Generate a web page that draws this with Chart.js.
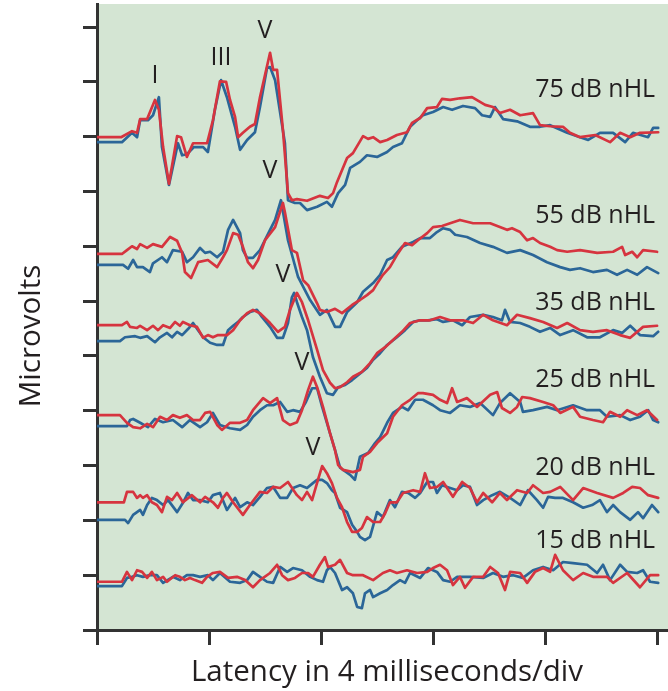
<!DOCTYPE html>
<html><head><meta charset="utf-8">
<script src="https://cdn.jsdelivr.net/npm/chart.js@4.4.1/dist/chart.umd.min.js"></script>
<style>html,body{margin:0;padding:0;background:#fff}canvas{display:block}</style>
</head><body>
<canvas id="c" width="668" height="691"></canvas>
<script>
// Latency (ms) / amplitude (divisions) pairs
const levels = ['75 dB nHL','55 dB nHL','35 dB nHL','25 dB nHL','20 dB nHL','15 dB nHL'];
const levelLabelY = [9.72, 7.42, 5.84, 4.43, 2.83, 1.50];
const peakLabels = ['I','III','V','V','V','V','V'];
const peakLabelX = [2.07, 4.43, 6.0, 6.18, 6.64, 7.32, 7.71];
const peakLabelY = [9.98, 10.31, 10.80, 8.25, 6.35, 4.74, 3.19];
const xTicks = [0,4,8,12,16,20];

const red75 = [[0,8.99],[0.86,8.99],[1.25,9.10],[1.43,9.07],[1.54,9.32],[1.79,9.32],[2.07,9.67],[2.21,9.49],[2.36,8.81],[2.57,8.14],[2.86,9.01],[3.0,8.99],[3.21,8.63],[3.43,8.88],[3.93,8.88],[4.14,9.30],[4.39,10.01],[4.61,10.0],[4.75,9.67],[4.93,9.36],[5.04,8.99],[5.21,9.07],[5.46,9.18],[5.64,9.23],[5.82,9.72],[6.18,10.53],[6.29,10.22],[6.43,10.22],[6.64,9.12],[6.82,7.97],[6.96,7.84],[7.14,7.86],[7.5,7.83],[7.96,7.92],[8.25,7.88],[8.43,7.97],[8.57,8.17],[8.93,8.61],[9.14,8.70],[9.5,9.01],[9.68,8.96],[9.86,8.99],[10.11,8.90],[10.36,8.94],[10.71,9.03],[11.07,9.08],[11.25,9.25],[11.54,9.34],[11.79,9.52],[12.14,9.54],[12.32,9.69],[12.61,9.67],[12.96,9.70],[13.39,9.72],[13.86,9.58],[14.14,9.54],[14.39,9.43],[14.75,9.49],[15.11,9.39],[15.57,9.43],[15.82,9.21],[16.18,9.19],[16.64,9.18],[16.89,9.07],[17.25,8.99],[17.79,9.03],[18.32,8.90],[18.68,9.07],[19.04,8.99],[19.39,9.07],[20.04,9.08]];
const blue75 = [[0,8.90],[0.89,8.90],[1.25,9.07],[1.43,8.99],[1.54,9.30],[1.82,9.30],[2.0,9.39],[2.21,9.72],[2.32,8.81],[2.57,8.12],[2.89,8.88],[3.04,8.66],[3.21,8.68],[3.46,8.81],[3.79,8.81],[3.96,8.72],[4.21,9.49],[4.43,10.03],[4.64,9.72],[4.93,9.18],[5.11,8.76],[5.36,8.94],[5.64,9.08],[5.82,9.54],[6.07,10.25],[6.18,10.27],[6.36,10.03],[6.71,8.88],[6.82,7.84],[7.07,7.79],[7.25,7.79],[7.5,7.66],[7.86,7.72],[8.21,7.81],[8.39,7.72],[8.61,7.97],[8.86,8.12],[9.04,8.43],[9.39,8.54],[9.64,8.66],[10.0,8.63],[10.36,8.72],[10.57,8.81],[10.89,8.88],[11.07,9.07],[11.18,9.18],[11.43,9.30],[11.64,9.39],[12.0,9.45],[12.36,9.54],[12.68,9.49],[13.07,9.56],[13.5,9.52],[13.75,9.39],[14.04,9.36],[14.21,9.54],[14.5,9.32],[15.0,9.28],[15.46,9.18],[15.82,9.18],[16.18,9.21],[16.79,9.07],[17.25,8.99],[17.54,8.94],[17.96,9.07],[18.43,9.07],[18.86,8.90],[19.14,9.07],[19.68,8.99],[19.86,9.16],[20.04,9.16]];

const red55 = [[0,6.86],[0.89,6.86],[1.07,6.93],[1.25,7.00],[1.43,6.95],[1.54,7.04],[1.79,6.97],[2.0,7.04],[2.32,6.99],[2.61,7.17],[2.86,7.10],[3.04,6.88],[3.14,6.53],[3.36,6.42],[3.61,6.71],[3.96,6.75],[4.29,6.62],[4.5,6.80],[4.64,6.93],[4.86,7.24],[5.04,7.21],[5.21,6.99],[5.39,6.71],[5.57,6.60],[5.75,6.75],[6.0,7.11],[6.36,7.35],[6.64,7.79],[6.71,7.62],[6.96,6.93],[7.14,6.88],[7.36,6.38],[7.54,6.29],[7.86,5.96],[7.96,5.84],[8.21,5.80],[8.5,5.86],[8.75,5.78],[9.11,5.93],[9.39,6.02],[9.64,6.11],[9.86,6.20],[10.04,6.35],[10.21,6.48],[10.46,6.62],[10.71,6.84],[11.0,7.06],[11.25,7.02],[11.46,7.11],[11.79,7.24],[12.0,7.35],[12.32,7.37],[12.61,7.42],[12.96,7.48],[13.43,7.42],[14.04,7.42],[14.64,7.30],[14.82,7.33],[15.11,7.26],[15.36,7.11],[15.57,7.15],[15.82,7.06],[16.18,6.99],[16.43,6.93],[16.79,6.90],[17.25,6.93],[17.86,6.88],[18.43,6.90],[18.75,6.99],[18.86,6.84],[19.11,6.90],[19.29,6.80],[19.5,6.93],[20.0,6.90]];
const blue55 = [[0,6.66],[0.93,6.66],[1.11,6.59],[1.29,6.75],[1.43,6.62],[1.64,6.62],[1.89,6.53],[2.0,6.69],[2.32,6.80],[2.5,6.71],[2.71,6.93],[3.04,6.90],[3.21,6.71],[3.43,6.80],[3.68,6.97],[3.86,6.88],[4.04,6.90],[4.29,6.80],[4.5,6.90],[4.68,7.30],[4.86,7.48],[5.11,7.24],[5.21,6.93],[5.36,6.79],[5.57,6.79],[5.82,6.93],[6.18,7.30],[6.36,7.48],[6.57,7.84],[6.82,7.11],[7.18,6.44],[7.61,6.02],[7.96,5.75],[8.21,5.84],[8.5,5.53],[8.68,5.53],[8.93,5.80],[9.29,5.98],[9.5,6.17],[9.86,6.33],[10.11,6.48],[10.36,6.75],[10.57,6.80],[10.89,6.99],[11.29,7.08],[11.54,7.15],[11.89,7.15],[12.14,7.26],[12.36,7.33],[12.61,7.30],[12.79,7.21],[13.21,7.17],[13.68,7.06],[14.14,6.99],[14.64,6.88],[15.11,6.93],[15.57,6.84],[16.07,6.71],[16.54,6.62],[16.89,6.57],[17.25,6.60],[17.71,6.53],[18.21,6.57],[18.57,6.48],[18.93,6.57],[19.29,6.48],[19.64,6.62],[20.04,6.51]];

const red35 = [[0,5.56],[0.89,5.56],[1.07,5.62],[1.18,5.53],[1.43,5.51],[1.54,5.55],[1.79,5.47],[2.0,5.55],[2.18,5.47],[2.36,5.56],[2.61,5.51],[2.79,5.62],[2.96,5.55],[3.07,5.62],[3.32,5.56],[3.57,5.53],[3.79,5.33],[3.96,5.38],[4.14,5.34],[4.32,5.38],[4.64,5.38],[4.86,5.47],[5.11,5.65],[5.36,5.78],[5.57,5.84],[5.82,5.78],[6.18,5.60],[6.46,5.44],[6.71,5.53],[6.89,5.84],[7.14,6.15],[7.32,5.98],[7.54,5.65],[7.86,5.11],[8.07,4.74],[8.32,4.51],[8.5,4.41],[8.68,4.43],[8.93,4.52],[9.14,4.62],[9.46,4.71],[9.75,4.87],[10.0,5.05],[10.29,5.16],[10.57,5.29],[10.89,5.44],[11.18,5.60],[11.54,5.65],[11.89,5.65],[12.25,5.71],[12.61,5.65],[13.07,5.65],[13.43,5.60],[13.79,5.75],[14.14,5.65],[14.64,5.56],[15.0,5.75],[15.46,5.69],[15.93,5.62],[16.43,5.51],[16.79,5.60],[17.25,5.47],[17.71,5.44],[18.21,5.47],[18.68,5.38],[19.04,5.33],[19.5,5.53],[20.0,5.55]];
const blue35 = [[0,5.27],[0.82,5.27],[1.0,5.34],[1.36,5.36],[1.54,5.33],[1.79,5.36],[2.07,5.25],[2.25,5.34],[2.5,5.42],[2.68,5.34],[2.86,5.44],[3.04,5.38],[3.25,5.49],[3.43,5.60],[3.61,5.47],[3.79,5.34],[4.04,5.24],[4.29,5.20],[4.5,5.20],[4.68,5.47],[4.86,5.55],[5.04,5.62],[5.21,5.71],[5.46,5.80],[5.71,5.84],[5.89,5.71],[6.18,5.53],[6.43,5.33],[6.64,5.33],[6.82,5.60],[6.96,6.07],[7.04,6.15],[7.14,5.98],[7.32,5.71],[7.5,5.47],[7.71,4.98],[7.96,4.62],[8.21,4.32],[8.43,4.29],[8.61,4.43],[8.86,4.47],[9.11,4.56],[9.32,4.65],[9.64,4.78],[9.86,4.93],[10.11,5.05],[10.36,5.20],[10.71,5.34],[11.0,5.47],[11.29,5.62],[11.54,5.65],[11.82,5.65],[12.14,5.67],[12.36,5.62],[12.71,5.65],[13.04,5.56],[13.32,5.71],[13.79,5.75],[14.14,5.71],[14.46,5.65],[14.57,5.84],[14.75,5.62],[15.11,5.60],[15.46,5.53],[15.82,5.44],[16.18,5.51],[16.54,5.38],[17.0,5.47],[17.5,5.34],[17.96,5.34],[18.43,5.47],[18.75,5.42],[19.04,5.55],[19.39,5.38],[19.86,5.36],[20.04,5.44]];

const red25 = [[0,3.92],[0.82,3.92],[1.07,3.78],[1.29,3.70],[1.54,3.68],[1.79,3.76],[2.0,3.70],[2.25,3.89],[2.5,3.83],[2.71,3.92],[2.96,3.87],[3.21,3.92],[3.43,3.83],[3.68,3.83],[3.86,3.96],[4.04,3.98],[4.29,3.74],[4.46,3.65],[4.75,3.78],[5.11,3.78],[5.36,3.83],[5.57,4.01],[5.93,4.23],[6.18,4.14],[6.43,4.23],[6.64,3.83],[6.89,3.74],[7.14,3.79],[7.32,4.01],[7.54,4.38],[7.71,4.62],[7.86,4.43],[8.07,4.07],[8.32,3.59],[8.5,3.28],[8.61,3.01],[8.79,2.92],[9.14,2.88],[9.39,2.92],[9.5,3.16],[9.75,3.25],[10.0,3.41],[10.36,3.59],[10.57,3.89],[10.89,4.10],[11.18,4.20],[11.46,4.32],[11.64,4.32],[12.0,4.29],[12.25,4.20],[12.5,4.14],[12.68,4.41],[12.86,4.16],[13.21,4.23],[13.57,4.07],[14.04,4.29],[14.29,4.34],[14.46,4.05],[14.75,3.96],[15.0,4.07],[15.18,4.25],[15.46,4.23],[15.93,4.16],[16.29,4.10],[16.54,3.96],[17.0,4.07],[17.25,3.89],[17.71,3.83],[18.07,3.79],[18.32,3.98],[18.68,3.89],[18.93,4.01],[19.29,3.92],[19.64,4.01],[20.0,3.83]];
const blue25 = [[0,3.72],[1.07,3.72],[1.18,3.83],[1.29,3.85],[1.54,3.78],[1.82,3.70],[2.07,3.85],[2.36,3.79],[2.71,3.83],[3.04,3.70],[3.32,3.83],[3.68,3.70],[3.93,3.79],[4.14,3.96],[4.39,3.74],[4.75,3.68],[5.11,3.65],[5.36,3.74],[5.57,3.89],[5.82,4.01],[6.07,4.10],[6.29,4.10],[6.54,4.16],[6.79,3.98],[7.0,4.01],[7.25,3.98],[7.46,4.16],[7.68,4.41],[7.86,4.41],[8.04,4.07],[8.32,3.59],[8.5,3.28],[8.68,2.96],[9.04,2.83],[9.21,2.74],[9.39,3.16],[9.68,3.23],[9.93,3.41],[10.11,3.52],[10.36,3.78],[10.57,3.96],[10.89,4.07],[11.11,4.01],[11.36,4.20],[11.64,4.20],[12.0,4.10],[12.25,4.01],[12.61,3.96],[12.96,4.10],[13.32,4.07],[13.68,4.14],[14.14,3.92],[14.39,4.14],[14.75,4.32],[15.11,4.16],[15.21,3.98],[15.57,4.01],[16.07,4.07],[16.43,4.01],[17.0,4.10],[17.5,4.01],[17.96,4.01],[18.21,3.89],[18.68,3.92],[19.04,3.83],[19.39,3.89],[19.68,4.01],[19.86,3.83],[20.04,3.79]];

const red20 = [[0,2.33],[0.96,2.33],[1.07,2.52],[1.29,2.52],[1.43,2.41],[1.54,2.46],[1.64,2.41],[1.79,2.46],[1.96,2.33],[2.14,2.28],[2.32,2.15],[2.5,2.43],[2.68,2.37],[2.86,2.50],[3.07,2.33],[3.39,2.46],[3.68,2.33],[3.86,2.43],[4.14,2.33],[4.32,2.23],[4.5,2.41],[4.64,2.50],[4.86,2.33],[5.21,2.10],[5.46,2.28],[5.82,2.52],[6.07,2.50],[6.29,2.61],[6.54,2.59],[6.82,2.70],[7.14,2.46],[7.32,2.37],[7.5,2.52],[7.68,2.37],[7.89,2.74],[8.04,2.99],[8.21,2.86],[8.39,2.68],[8.57,2.41],[8.75,2.24],[8.93,1.97],[9.11,1.79],[9.29,1.79],[9.46,1.86],[9.64,2.06],[9.86,1.97],[10.11,1.97],[10.29,2.13],[10.46,2.33],[10.71,2.33],[10.93,2.50],[11.29,2.55],[11.54,2.52],[11.71,2.86],[11.89,2.59],[12.14,2.61],[12.36,2.70],[12.71,2.43],[13.04,2.70],[13.32,2.59],[13.57,2.33],[13.79,2.50],[14.11,2.33],[14.39,2.50],[14.64,2.37],[15.0,2.55],[15.36,2.50],[15.57,2.64],[15.93,2.50],[16.18,2.52],[16.54,2.61],[17.0,2.37],[17.36,2.59],[17.86,2.50],[18.43,2.41],[18.79,2.50],[19.11,2.61],[19.39,2.59],[19.68,2.46],[20.04,2.41]];
const blue20 = [[0,2.01],[1.0,2.01],[1.11,1.95],[1.29,2.10],[1.54,2.19],[1.64,2.10],[1.79,2.28],[1.96,2.41],[2.14,2.37],[2.36,2.28],[2.54,2.37],[2.86,2.15],[3.07,2.32],[3.25,2.50],[3.43,2.37],[3.68,2.37],[3.96,2.33],[4.14,2.46],[4.39,2.50],[4.64,2.19],[4.93,2.41],[5.11,2.24],[5.36,2.33],[5.57,2.28],[5.82,2.43],[6.07,2.59],[6.29,2.61],[6.54,2.41],[6.79,2.41],[7.0,2.59],[7.25,2.64],[7.5,2.59],[7.71,2.68],[7.86,2.74],[8.04,2.74],[8.21,2.68],[8.39,2.55],[8.5,2.50],[8.68,2.23],[8.93,2.15],[9.11,1.92],[9.29,1.79],[9.39,1.70],[9.57,1.64],[9.75,1.70],[10.0,2.15],[10.21,2.06],[10.46,2.37],[10.64,2.24],[10.89,2.52],[11.11,2.50],[11.36,2.41],[11.54,2.50],[11.79,2.70],[12.0,2.70],[12.14,2.50],[12.32,2.64],[12.61,2.59],[12.86,2.55],[13.07,2.64],[13.32,2.61],[13.57,2.28],[13.79,2.37],[14.11,2.46],[14.39,2.52],[14.75,2.41],[15.11,2.28],[15.39,2.55],[15.71,2.37],[15.93,2.23],[16.11,2.43],[16.36,2.41],[16.64,2.41],[17.0,2.33],[17.36,2.23],[17.68,2.28],[17.96,2.37],[18.21,2.15],[18.43,2.28],[18.68,2.15],[19.04,2.01],[19.32,2.15],[19.5,2.04],[19.82,2.28],[20.04,2.15]];

const red15 = [[0,0.88],[0.89,0.88],[1.07,1.06],[1.25,0.91],[1.43,1.09],[1.61,1.06],[1.79,0.95],[1.96,1.06],[2.14,0.91],[2.36,0.97],[2.5,0.88],[2.79,1.00],[2.96,0.97],[3.14,0.91],[3.32,0.95],[3.5,0.91],[3.75,0.86],[3.93,0.97],[4.14,1.04],[4.39,1.06],[4.68,0.95],[5.0,0.97],[5.29,0.91],[5.57,0.78],[5.82,0.91],[6.18,1.04],[6.43,1.19],[6.61,1.00],[6.82,0.91],[7.07,0.95],[7.32,1.04],[7.54,1.04],[7.71,0.97],[7.96,1.19],[8.14,1.33],[8.25,1.15],[8.5,1.19],[8.68,1.28],[8.93,1.04],[9.14,1.00],[9.5,1.00],[9.86,0.91],[10.21,1.04],[10.46,1.09],[10.71,1.04],[11.07,1.09],[11.43,1.04],[11.79,1.06],[12.0,1.13],[12.25,1.19],[12.5,1.09],[12.71,0.82],[12.96,0.97],[13.14,0.77],[13.43,0.97],[13.79,0.97],[14.04,1.15],[14.32,1.04],[14.57,0.73],[14.75,1.06],[15.11,1.04],[15.36,0.86],[15.64,1.06],[15.93,1.13],[16.18,1.06],[16.36,1.37],[16.64,1.09],[17.0,0.91],[17.36,1.04],[17.71,0.97],[18.21,0.97],[18.43,0.86],[18.93,1.04],[19.39,0.78],[19.75,1.00],[20.04,1.00]];
const blue15 = [[0,0.80],[0.89,0.80],[1.07,0.95],[1.25,0.97],[1.43,1.00],[1.64,0.97],[1.89,1.00],[2.14,1.00],[2.36,0.86],[2.71,0.97],[2.96,0.91],[3.21,1.00],[3.43,1.00],[3.68,0.97],[3.96,1.00],[4.14,0.91],[4.39,1.04],[4.75,0.88],[5.11,0.86],[5.36,0.91],[5.57,1.06],[5.82,0.97],[6.07,0.88],[6.29,0.86],[6.54,1.15],[6.79,1.06],[7.0,1.13],[7.32,1.09],[7.61,0.97],[7.86,0.91],[8.07,0.88],[8.21,1.09],[8.32,1.15],[8.5,1.04],[8.75,0.73],[8.93,0.78],[9.14,0.67],[9.29,0.42],[9.46,0.40],[9.57,0.67],[9.75,0.73],[9.86,0.60],[10.11,0.67],[10.36,0.73],[10.57,0.82],[10.82,0.91],[11.0,0.86],[11.18,1.04],[11.54,0.95],[11.82,1.13],[12.14,1.06],[12.36,0.91],[12.61,0.88],[12.86,0.97],[13.32,0.97],[13.79,0.95],[14.14,1.04],[14.5,0.97],[14.86,1.00],[15.21,0.95],[15.57,1.09],[15.93,1.15],[16.29,1.09],[16.64,1.24],[17.0,1.22],[17.5,1.19],[17.86,1.04],[18.07,1.19],[18.32,0.91],[18.68,1.19],[18.93,1.06],[19.29,1.04],[19.5,1.09],[19.75,0.88],[20.04,0.86]];

const redSeries = [red75, red55, red35, red25, red20, red15];
const blueSeries = [blue75, blue55, blue35, blue25, blue20, blue15];

const RED = '#d6343f', BLUE = '#2b6698', GREEN = '#d4e5d3', INK = '#231f20', AXIS = '#333333';
const toPts = a => a.map(([x, y]) => ({x, y}));

const datasets = [];
levels.forEach((lv, i) => {
  datasets.push({label: lv + ' (red)', data: toPts(redSeries[i]), borderColor: RED, order: 0});
  datasets.push({label: lv + ' (blue)', data: toPts(blueSeries[i]), borderColor: BLUE, order: 1});
});
datasets.forEach(d => Object.assign(d, {borderWidth: 2.7, pointRadius: 0, tension: 0, fill: false, borderJoinStyle: 'round', borderCapStyle: 'round'}));

const deco = {
  id: 'deco',
  beforeDraw(chart) {
    const {ctx, chartArea: a} = chart;
    ctx.save();
    ctx.fillStyle = GREEN;
    ctx.fillRect(a.left, a.top, a.right - a.left, a.bottom - a.top);
    ctx.restore();
  },
  afterDraw(chart) {
    const {ctx} = chart;
    const sx = chart.scales.x, sy = chart.scales.y;
    ctx.save();
    ctx.fillStyle = INK;
    ctx.textBaseline = 'alphabetic';
    ctx.font = '25px "Open Sans"';
    ctx.textAlign = 'right';
    levels.forEach((t, i) => ctx.fillText(t, sx.getPixelForValue(19.93), sy.getPixelForValue(levelLabelY[i])));
    ctx.textAlign = 'center';
    peakLabels.forEach((t, i) => ctx.fillText(t, sx.getPixelForValue(peakLabelX[i]), sy.getPixelForValue(peakLabelY[i])));
    ctx.font = '29.5px "Open Sans"';
    ctx.fillText('Latency in 4 milliseconds/div', 387, 681);
    ctx.translate(40, 336);
    ctx.rotate(-Math.PI / 2);
    ctx.fillText('Microvolts', 0, 0);
    ctx.restore();
  }
};

new Chart(document.getElementById('c'), {
  type: 'line',
  data: {datasets},
  options: {
    responsive: false,
    animation: false,
    devicePixelRatio: 1,
    layout: {padding: {top: 4, right: 0, left: 0, bottom: 0}},
    plugins: {legend: {display: false}, tooltip: {enabled: false}},
    scales: {
      x: {
        type: 'linear', min: 0, max: 20.39,
        afterBuildTicks: s => { s.ticks = xTicks.map(v => ({value: v})); },
        ticks: {display: false},
        grid: {drawOnChartArea: false, drawTicks: true, tickLength: 15, lineWidth: 3, color: AXIS},
        border: {display: true, color: AXIS, width: 3},
        afterFit: s => { s.height = 61; }
      },
      y: {
        type: 'linear', min: 0, max: 11.42,
        ticks: {display: false, stepSize: 1, includeBounds: false},
        grid: {drawOnChartArea: false, drawTicks: true, tickLength: 14, lineWidth: 3, color: AXIS},
        border: {display: true, color: AXIS, width: 3},
        afterFit: s => { s.width = 97; }
      }
    }
  },
  plugins: [deco]
});
</script>
</body></html>
